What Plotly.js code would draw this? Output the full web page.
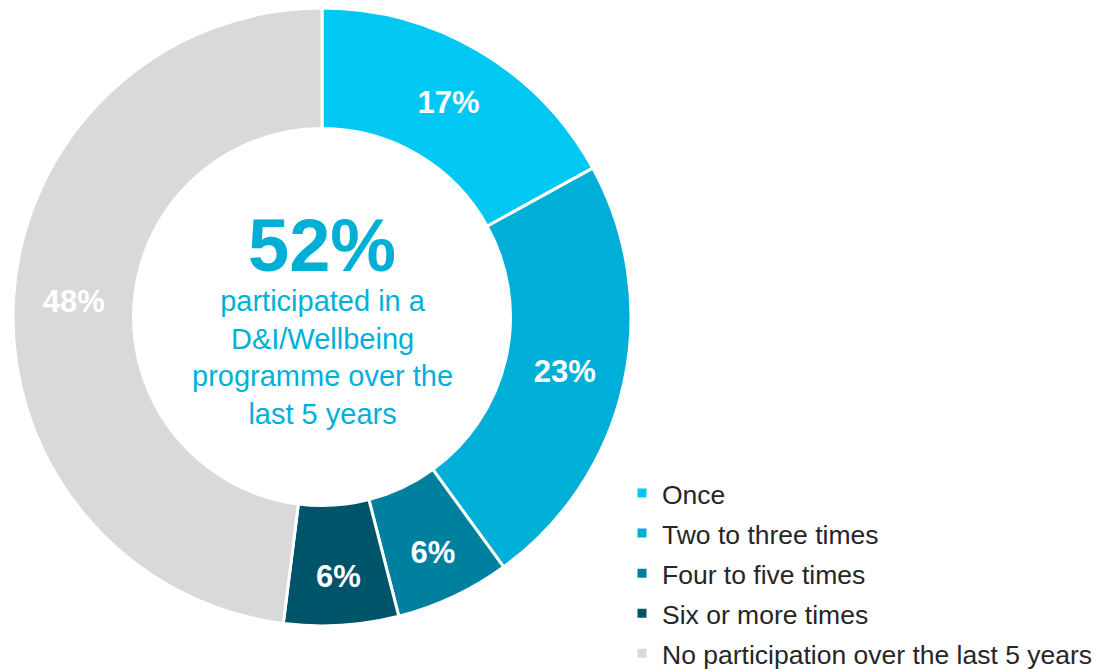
<!DOCTYPE html>
<html>
<head>
<meta charset="utf-8">
<script src="https://cdn.plot.ly/plotly-3.0.1.min.js"></script>
<style>html,body{margin:0;padding:0;background:#fff;}#chart{width:1096px;height:669px;}</style>
</head>
<body>
<div id="chart"></div>
<script>
const categories = ["Once", "Two to three times", "Four to five times", "Six or more times", "No participation over the last 5 years"];
const values = [17, 23, 6, 6, 48];
const colors = ["#00C8F2", "#00AFD8", "#00809F", "#00546A", "#D9D9D9"];
const centerValue = "52%";
const centerText = ["participated in a", "D&I/Wellbeing", "programme over the", "last 5 years"];

const W = 1096, H = 669;
const cx = 322, cy = 317, R = 309;

const trace = {
  type: "pie",
  labels: categories.map(c => '<span style="font-size:26.5px">' + c + '</span>'),
  values: values,
  sort: false,
  direction: "clockwise",
  rotation: 0,
  hole: 0.61,
  marker: { colors: colors, line: { color: "#FFFFFF", width: 3 } },
  texttemplate: "%{value}%",
  textposition: "inside",
  insidetextorientation: "horizontal",
  textfont: { family: "Liberation Sans, Arial, sans-serif", size: 31, color: "#FFFFFF", weight: "bold" },
  hoverinfo: "label+percent",
  domain: { x: [(cx - R) / W, (cx + R) / W], y: [1 - (cy + R) / H, 1 - (cy - R) / H] }
};

const layout = {
  width: W, height: H,
  margin: { l: 0, r: 0, t: 0, b: 0, autoexpand: false },
  paper_bgcolor: "#FFFFFF",
  showlegend: true,
  legend: {
    x: 622 / W, xanchor: "left",
    y: 1 - 468 / H, yanchor: "top",
    font: { family: "Liberation Sans, Arial, sans-serif", size: 28.5, color: "#262626" },
    bgcolor: "rgba(0,0,0,0)",
    traceorder: "normal"
  },
  annotations: [
    { text: "<b>" + centerValue + "</b>", x: cx / W, y: 1 - 245 / H, xref: "paper", yref: "paper",
      xanchor: "center", yanchor: "middle", showarrow: false,
      font: { family: "Liberation Sans, Arial, sans-serif", size: 74, color: "#00AED6" } },
    { text: centerText.join("<br>"), x: cx / W, y: 1 - 357 / H, xref: "paper", yref: "paper",
      xanchor: "center", yanchor: "middle", showarrow: false, align: "center",
      font: { family: "Liberation Sans, Arial, sans-serif", size: 29, color: "#00B0DA" } }
  ]
};

Plotly.newPlot("chart", [trace], layout, { displayModeBar: false, staticPlot: true });
</script>
</body>
</html>
